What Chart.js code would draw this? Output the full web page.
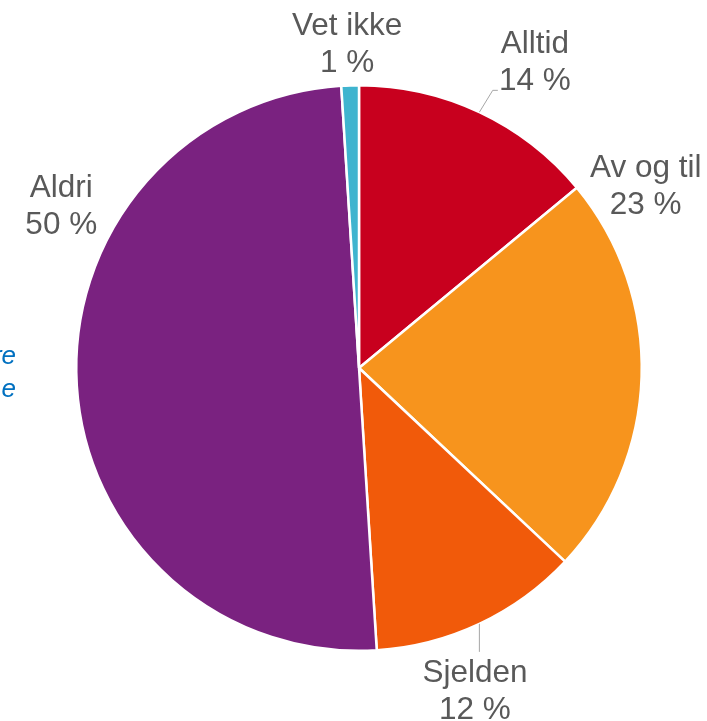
<!DOCTYPE html>
<html>
<head>
<meta charset="utf-8">
<script src="https://cdn.jsdelivr.net/npm/chart.js@4.4.1/dist/chart.umd.min.js"></script>
<style>
  html, body { margin: 0; padding: 0; background: #ffffff; overflow: hidden; }
  #wrap { position: relative; width: 707px; height: 721px; }
  canvas { position: absolute; left: 0; top: 0; }
</style>
</head>
<body>
<div id="wrap"><canvas id="c" width="707" height="721"></canvas></div>
<script>
// ---- Data ----
const categories = ["Alltid", "Av og til", "Sjelden", "Aldri", "Vet ikke"];
const values = [14, 23, 12, 50, 1];
const sliceColors = ["#C8001E", "#F7941D", "#F15A0A", "#7A2280", "#3FB4CF"];

// label placement relative to the pie centre, in units of the outer radius
const labelOffsets = [
  [0.622, -1.113],
  [1.014, -0.675],
  [0.410, 1.110],
  [-1.053, -0.604],
  [-0.042, -1.177]
];
// leader lines (from the slice's mid-angle on the rim to these points), radius units
const leaderPoints = [
  [[0.473, -0.982], [0.491, -0.982]],
  null,
  [[null, 1.004]],
  null,
  null
];

const labelPlugin = {
  id: 'sliceLabels',
  afterDraw(chart) {
    const ctx = chart.ctx;
    const meta = chart.getDatasetMeta(0);
    ctx.save();
    meta.data.forEach((arc, i) => {
      const p = arc.getProps(['x', 'y', 'startAngle', 'endAngle', 'outerRadius'], true);
      const R = p.outerRadius;
      const mid = (p.startAngle + p.endAngle) / 2;
      // leader line
      if (leaderPoints[i]) {
        const sx = p.x + Math.cos(mid) * R;
        const sy = p.y + Math.sin(mid) * R;
        ctx.beginPath();
        ctx.strokeStyle = '#A6A6A6';
        ctx.lineWidth = 1;
        ctx.moveTo(sx, sy);
        leaderPoints[i].forEach(pt => {
          const lx = pt[0] === null ? sx : p.x + pt[0] * R;
          const ly = p.y + pt[1] * R;
          ctx.lineTo(lx, ly);
        });
        ctx.stroke();
      }
      const lx = p.x + labelOffsets[i][0] * R;
      const ly = p.y + labelOffsets[i][1] * R;
      ctx.fillStyle = '#595959';
      ctx.font = '31.5px "Liberation Sans", Arial, sans-serif';
      ctx.textAlign = 'center';
      ctx.textBaseline = 'alphabetic';
      ctx.fillText(categories[i], lx, ly);
      ctx.fillText(values[i] + ' %', lx, ly + 37);
    });
    // clipped side note (partly outside the picture)
    ctx.fillStyle = '#0070C0';
    ctx.font = 'italic 26px "Liberation Sans", Arial, sans-serif';
    ctx.textAlign = 'right';
    ctx.fillText('re', 16, 364);
    ctx.fillText('e', 16, 397);
    ctx.restore();
  }
};

new Chart(document.getElementById('c'), {
  type: 'pie',
  data: {
    labels: categories,
    datasets: [{
      data: values,
      backgroundColor: sliceColors,
      borderColor: '#ffffff',
      borderWidth: 2.5
    }]
  },
  options: {
    responsive: false,
    devicePixelRatio: 1,
    animation: false,
    layout: { padding: { left: 75, top: 84, right: 64, bottom: 69 } },
    plugins: {
      legend: { display: false },
      tooltip: { enabled: false }
    }
  },
  plugins: [labelPlugin]
});
</script>
</body>
</html>
